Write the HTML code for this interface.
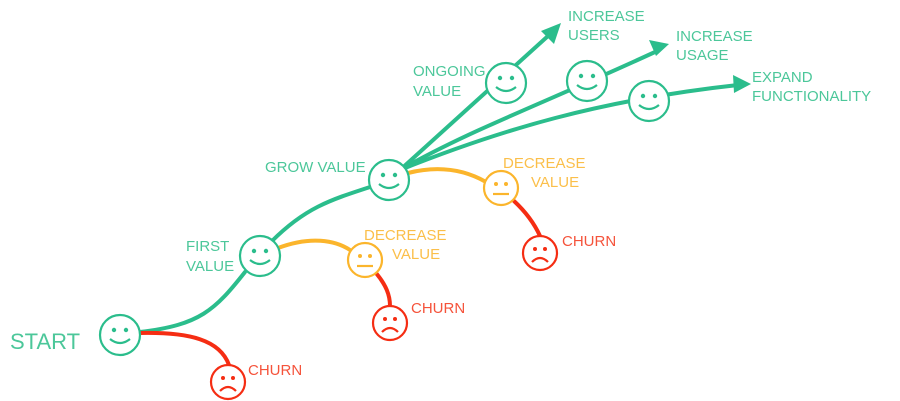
<!DOCTYPE html>
<html><head><meta charset="utf-8"><style>
html,body{margin:0;padding:0;background:#fff;width:900px;height:401px;overflow:hidden}
text{font-family:"Liberation Sans",sans-serif;font-size:15px}
.g{fill:#4cc79a}.y{fill:#fbbf4a}.r{fill:#f5533b}
</style></head><body>
<svg width="900" height="401" viewBox="0 0 900 401" xmlns="http://www.w3.org/2000/svg">
<defs>
<g id="happy" fill="#fff" stroke="#2bbd8c" stroke-width="2.2"><circle r="20"/><circle cx="-6" cy="-5" r="2.2" fill="#2bbd8c" stroke="none"/><circle cx="6" cy="-5" r="2.2" fill="#2bbd8c" stroke="none"/><path d="M-10 4 Q0 12 10 4" fill="none"/></g>
<g id="meh" fill="#fff" stroke="#fbb52c" stroke-width="2.2"><circle r="17"/><circle cx="-5" cy="-4" r="2" fill="#fbb52c" stroke="none"/><circle cx="5" cy="-4" r="2" fill="#fbb52c" stroke="none"/><path d="M-8 6 H8" fill="none"/></g>
<g id="sad" fill="#fff" stroke="#f52d13" stroke-width="2.2"><circle r="17"/><circle cx="-5" cy="-4" r="2" fill="#f52d13" stroke="none"/><circle cx="5" cy="-4" r="2" fill="#f52d13" stroke="none"/><path d="M-8 9 Q0 1 8 9" fill="none"/></g>
</defs>
<g fill="none" stroke-width="4" stroke-linecap="round">
<path d="M140 332 C200 325 215 310 245 272" stroke="#2bbd8c"/>
<path d="M272 241 C305 208 330 200 370 187" stroke="#2bbd8c"/>
<path d="M140 333 C190 332 220 340 229 365" stroke="#f52d13"/>
<path d="M278 248 C310 236 335 240 350 250" stroke="#fbb52c"/>
<path d="M376 273 C386 285 390 295 390 306" stroke="#f52d13"/>
<path d="M408 173 C440 165 465 170 486 182" stroke="#fbb52c"/>
<path d="M514 201 C528 214 535 225 540 236" stroke="#f52d13"/>
<path d="M400 170 L548 36" stroke="#2bbd8c"/>
<path d="M400 170 C470 130 540 105 655 52" stroke="#2bbd8c"/>
<path d="M400 170 C500 130 600 100 738 85" stroke="#2bbd8c"/>
</g>
<g fill="#2bbd8c">
<polygon points="561,23 541,31 554,44"/>
<polygon points="669,44 649,40 656,56"/>
<polygon points="751,84 733,75 734,93"/>
</g>
<use href="#happy" x="120" y="335"/>
<use href="#happy" x="260" y="256"/>
<use href="#happy" x="389" y="180"/>
<use href="#happy" x="506" y="83"/>
<use href="#happy" x="587" y="81"/>
<use href="#happy" x="649" y="101"/>
<use href="#meh" x="365" y="260"/>
<use href="#meh" x="501" y="188"/>
<use href="#sad" x="390" y="323"/>
<use href="#sad" x="540" y="253"/>
<use href="#sad" x="228" y="382"/>
<text x="10" y="349" class="g" style="font-size:22px">START</text>
<text x="186" y="251" class="g">FIRST</text>
<text x="186" y="271" class="g">VALUE</text>
<text x="265" y="172" class="g">GROW VALUE</text>
<text x="413" y="76" class="g">ONGOING</text>
<text x="413" y="96" class="g">VALUE</text>
<text x="568" y="21" class="g">INCREASE</text>
<text x="568" y="40" class="g">USERS</text>
<text x="676" y="41" class="g">INCREASE</text>
<text x="676" y="60" class="g">USAGE</text>
<text x="752" y="82" class="g">EXPAND</text>
<text x="752" y="101" class="g">FUNCTIONALITY</text>
<text x="364" y="240" class="y">DECREASE</text>
<text x="392" y="259" class="y">VALUE</text>
<text x="503" y="168" class="y">DECREASE</text>
<text x="531" y="187" class="y">VALUE</text>
<text x="411" y="313" class="r">CHURN</text>
<text x="562" y="246" class="r">CHURN</text>
<text x="248" y="375" class="r">CHURN</text>
</svg>
</body></html>
